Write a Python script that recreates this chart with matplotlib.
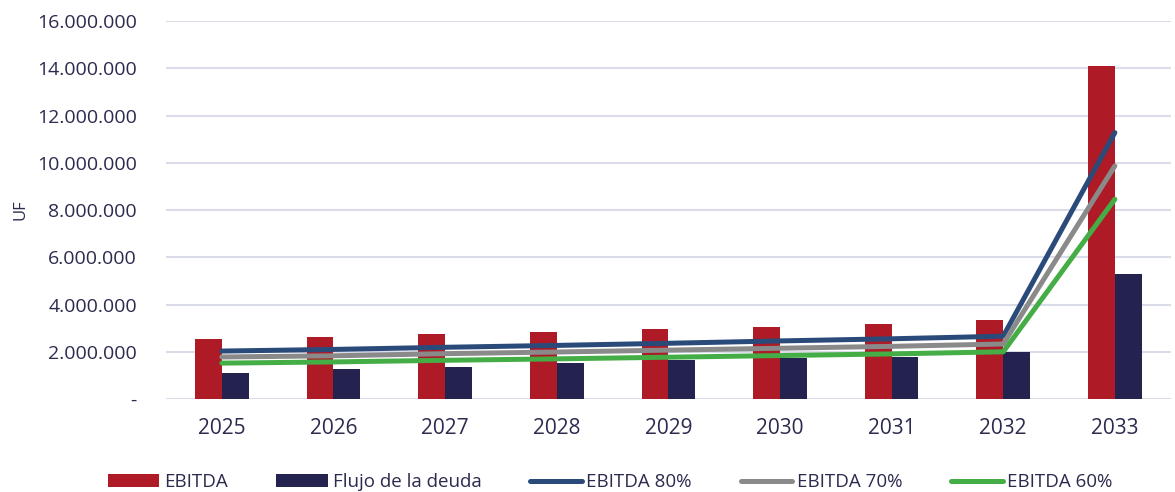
import numpy as np
import matplotlib.pyplot as plt
from matplotlib.ticker import FuncFormatter

########### Data ###############

years = ['2025', '2026', '2027', '2028', '2029', '2030', '2031', '2032', '2033']
ebitda = [2540000, 2620000, 2740000, 2840000, 2950000, 3070000, 3190000, 3330000, 14100000]
flujo_deuda = [1100000, 1260000, 1350000, 1510000, 1640000, 1720000, 1790000, 1990000, 5280000]
ebitda_80 = [2030000, 2100000, 2190000, 2270000, 2360000, 2460000, 2550000, 2660000, 11280000]
ebitda_70 = [1780000, 1830000, 1920000, 1990000, 2070000, 2150000, 2230000, 2330000, 9870000]
ebitda_60 = [1520000, 1570000, 1640000, 1700000, 1770000, 1840000, 1910000, 2000000, 8460000]

########### Plot ###############

txt = '#2B2A4F'
plt.rcParams['font.family'] = ['Open Sans', 'DejaVu Sans']

fig = plt.figure(figsize=(11.75, 4.92), dpi=100)
ax = fig.add_axes([0.1413, 0.189, 0.855, 0.768])

x = np.arange(len(years))
w = 0.24
b1 = ax.bar(x - w / 2, ebitda, w, color='#AE1A26', label='EBITDA', zorder=2)
b2 = ax.bar(x + w / 2, flujo_deuda, w, color='#24224F', label='Flujo de la deuda', zorder=2)
l1, = ax.plot(x, ebitda_80, color='#2A4A7A', lw=3.6, solid_capstyle='round', label='EBITDA 80%', zorder=3)
l2, = ax.plot(x, ebitda_70, color='#8A8A8A', lw=3.6, solid_capstyle='round', label='EBITDA 70%', zorder=3)
l3, = ax.plot(x, ebitda_60, color='#45AD45', lw=3.6, solid_capstyle='round', label='EBITDA 60%', zorder=3)

ax.set_xlim(-0.5, len(years) - 0.5)
ax.set_ylim(0, 16000000)
ax.set_yticks(np.arange(0, 16000001, 2000000))


def fmt(v, pos):
    if v == 0:
        return '-'
    return f'{int(v):,}'.replace(',', '.')


ax.yaxis.set_major_formatter(FuncFormatter(fmt))
ax.set_xticks(x)
ax.set_xticklabels(years)
ax.tick_params(axis='both', length=0, labelcolor=txt)
ax.tick_params(axis='y', pad=21, labelsize=14)
ax.tick_params(axis='x', pad=14, labelsize=15)
ax.grid(axis='y', color='#DADCEA', lw=1.5, zorder=0)
for s in ax.spines.values():
    s.set_visible(False)
ax.set_ylabel('UF', fontsize=12, color=txt, labelpad=6)

ax.legend(handles=[b1, b2, l1, l2, l3], loc='center', bbox_to_anchor=(0.442, -0.22),
          ncol=5, frameon=False, fontsize=13.5, labelcolor=txt, handlelength=2.75,
          handleheight=0.7, handletextpad=0.25, columnspacing=2.6)

plt.savefig('out.png', dpi=100)
